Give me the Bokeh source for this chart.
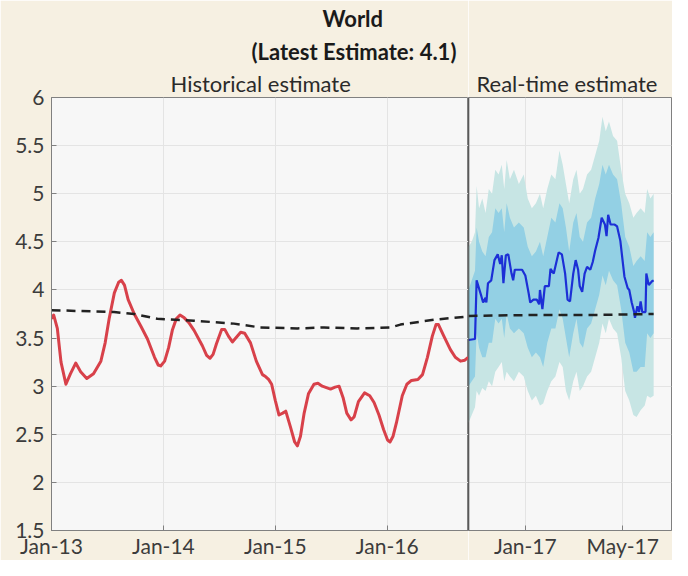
import pandas as pd
from bokeh.plotting import figure
from bokeh.layouts import row
from bokeh.models import (Title, FixedTicker, DatetimeTickFormatter, CustomJSTickFormatter,
                          Span, Range1d, ColumnDataSource)
from bokeh.embed import file_html
from bokeh.resources import INLINE

# ---------------- data ----------------
hist_dates = ["2013-01-01", "2013-01-08", "2013-01-20", "2013-02-01", "2013-02-17", "2013-03-04",
              "2013-03-21", "2013-04-06", "2013-04-26", "2013-05-18", "2013-06-11", "2013-06-25",
              "2013-07-08", "2013-07-25", "2013-08-08", "2013-08-17", "2013-08-27", "2013-09-08",
              "2013-09-28", "2013-10-20", "2013-11-10", "2013-12-03", "2013-12-15", "2013-12-23",
              "2014-01-05", "2014-01-18", "2014-01-30", "2014-02-12", "2014-02-24", "2014-03-10",
              "2014-03-25", "2014-04-11", "2014-05-08", "2014-05-22", "2014-06-02", "2014-06-12",
              "2014-06-23", "2014-07-10", "2014-07-20", "2014-08-01", "2014-08-14", "2014-08-25",
              "2014-09-10", "2014-09-23", "2014-10-12", "2014-10-31", "2014-11-20", "2014-11-30",
              "2014-12-10", "2014-12-20", "2015-01-01", "2015-01-13", "2015-01-25", "2015-02-04",
              "2015-02-19", "2015-03-05", "2015-03-14", "2015-03-24", "2015-04-05", "2015-04-19",
              "2015-05-07", "2015-05-20", "2015-06-03", "2015-06-30", "2015-07-15", "2015-07-28",
              "2015-08-10", "2015-08-22", "2015-09-05", "2015-09-15", "2015-09-29", "2015-10-19",
              "2015-11-05", "2015-11-19", "2015-12-05", "2015-12-20", "2016-01-02", "2016-01-10",
              "2016-01-20", "2016-01-31", "2016-02-19", "2016-03-05", "2016-03-20", "2016-04-10",
              "2016-04-25", "2016-05-11", "2016-05-27", "2016-06-08", "2016-06-16", "2016-07-02",
              "2016-07-25", "2016-08-10", "2016-08-27", "2016-09-10", "2016-09-21"]
hist_values = [3.70, 3.74, 3.60, 3.25, 3.02, 3.13,
               3.24, 3.15, 3.08, 3.13, 3.26, 3.45,
               3.70, 3.97, 4.08, 4.10, 4.05, 3.90,
               3.75, 3.62, 3.49, 3.30, 3.22, 3.21,
               3.26, 3.40, 3.58, 3.70, 3.74, 3.71,
               3.66, 3.58, 3.42, 3.32, 3.29, 3.33,
               3.44, 3.59, 3.59, 3.52, 3.46, 3.50,
               3.56, 3.55, 3.45, 3.26, 3.12, 3.10,
               3.07, 3.02, 2.85, 2.70, 2.72, 2.74,
               2.58, 2.42, 2.38, 2.48, 2.72, 2.92,
               3.02, 3.03, 3.00, 2.97, 2.99, 3.00,
               2.88, 2.72, 2.65, 2.68, 2.84, 2.93,
               2.90, 2.83, 2.70, 2.55, 2.44, 2.42,
               2.48, 2.62, 2.90, 3.02, 3.06, 3.07,
               3.12, 3.30, 3.52, 3.64, 3.64, 3.53,
               3.38, 3.30, 3.26, 3.27, 3.30]

trend_hist_dates = ["2013-01-01", "2013-07-24", "2013-09-28", "2013-12-12", "2014-04-11", "2014-08-19",
                    "2014-11-13", "2015-03-14", "2015-06-09", "2015-09-25", "2016-01-12", "2016-02-13",
                    "2016-06-01", "2016-09-07", "2016-09-21"]
trend_hist_values = [3.79, 3.77, 3.75, 3.70, 3.68, 3.65,
                     3.61, 3.60, 3.61, 3.60, 3.61, 3.64,
                     3.69, 3.72, 3.73]

rt_dates = ["2016-10-23", "2016-10-31", "2016-11-02", "2016-11-08", "2016-11-10", "2016-11-13",
            "2016-11-14", "2016-11-16", "2016-11-20", "2016-11-24", "2016-11-28", "2016-12-01",
            "2016-12-03", "2016-12-05", "2016-12-08", "2016-12-11", "2016-12-15", "2016-12-17",
            "2016-12-19", "2016-12-28", "2017-01-01", "2017-01-05", "2017-01-07", "2017-01-11",
            "2017-01-15", "2017-01-18", "2017-01-19", "2017-01-22", "2017-01-25", "2017-01-30",
            "2017-02-01", "2017-02-05", "2017-02-11", "2017-02-15", "2017-02-19", "2017-02-22",
            "2017-02-25", "2017-03-01", "2017-03-04", "2017-03-07", "2017-03-09", "2017-03-12",
            "2017-03-15", "2017-03-18", "2017-03-22", "2017-03-25", "2017-03-28", "2017-04-01",
            "2017-04-05", "2017-04-09", "2017-04-11", "2017-04-13", "2017-04-16", "2017-04-21",
            "2017-04-24", "2017-04-28", "2017-05-03", "2017-05-07", "2017-05-09", "2017-05-12",
            "2017-05-15", "2017-05-16", "2017-05-19", "2017-05-21", "2017-05-23", "2017-05-25",
            "2017-05-29", "2017-05-30", "2017-06-02", "2017-06-06", "2017-06-08"]
rt_values = [3.48, 3.49, 4.10, 3.93, 3.87, 3.92,
             3.87, 4.07, 4.10, 4.31, 4.37, 4.27,
             4.36, 4.07, 4.36, 4.37, 4.17, 4.10,
             4.21, 4.21, 4.15, 3.97, 3.87, 3.90,
             3.90, 3.85, 4.00, 3.80, 4.04, 4.04,
             4.22, 4.17, 4.39, 4.37, 4.17, 3.90,
             3.88, 4.17, 4.31, 4.21, 4.04, 3.98,
             4.17, 4.24, 4.21, 4.29, 4.41, 4.54,
             4.75, 4.68, 4.56, 4.78, 4.68, 4.68,
             4.66, 4.51, 4.14, 4.02, 4.00, 3.87,
             3.77, 3.71, 3.83, 3.77, 3.88, 3.77,
             3.77, 4.17, 4.05, 4.09, 4.10]

trend_rt_dates = ["2016-10-23", "2017-01-15", "2017-04-01", "2017-06-08"]
trend_rt_values = [3.73, 3.74, 3.74, 3.75]

band_dates = ["2016-10-23", "2016-10-27", "2016-10-31", "2016-11-02", "2016-11-05", "2016-11-09",
              "2016-11-13", "2016-11-17", "2016-11-21", "2016-11-25", "2016-11-29", "2016-12-03",
              "2016-12-06", "2016-12-09", "2016-12-13", "2016-12-18", "2016-12-24", "2016-12-30",
              "2017-01-04", "2017-01-09", "2017-01-14", "2017-01-19", "2017-01-23", "2017-01-28",
              "2017-02-02", "2017-02-07", "2017-02-12", "2017-02-16", "2017-02-20", "2017-02-24",
              "2017-03-01", "2017-03-05", "2017-03-09", "2017-03-13", "2017-03-18", "2017-03-23",
              "2017-03-28", "2017-04-02", "2017-04-06", "2017-04-10", "2017-04-14", "2017-04-19",
              "2017-04-24", "2017-04-29", "2017-05-04", "2017-05-09", "2017-05-14", "2017-05-18",
              "2017-05-23", "2017-05-28", "2017-05-31", "2017-06-04", "2017-06-08"]
outer_upper = [4.45, 4.50, 4.60, 5.08, 4.85, 4.95,
               4.80, 5.05, 5.00, 5.25, 5.20, 5.30,
               5.05, 5.35, 5.15, 5.25, 5.10, 5.20,
               4.95, 4.85, 4.90, 5.00, 4.85, 5.05,
               5.20, 5.15, 5.45, 5.30, 5.10, 4.90,
               5.15, 5.25, 5.00, 5.05, 5.20, 5.25,
               5.40, 5.55, 5.80, 5.65, 5.75, 5.60,
               5.55, 5.25, 5.00, 4.90, 4.75, 4.80,
               4.85, 4.80, 5.05, 4.95, 5.00]
inner_upper = [4.00, 4.10, 4.20, 4.65, 4.50, 4.40,
               4.35, 4.55, 4.60, 4.85, 4.80, 4.85,
               4.60, 4.90, 4.75, 4.65, 4.70, 4.65,
               4.45, 4.35, 4.40, 4.50, 4.35, 4.55,
               4.75, 4.70, 4.90, 4.85, 4.65, 4.40,
               4.70, 4.80, 4.55, 4.50, 4.70, 4.75,
               4.95, 5.10, 5.30, 5.20, 5.30, 5.20,
               5.15, 4.90, 4.55, 4.45, 4.25, 4.30,
               4.35, 4.30, 4.60, 4.55, 4.60]
inner_lower = [3.00, 3.05, 3.10, 3.55, 3.40, 3.30,
               3.30, 3.45, 3.45, 3.70, 3.65, 3.70,
               3.50, 3.75, 3.60, 3.55, 3.60, 3.55,
               3.40, 3.30, 3.35, 3.30, 3.20, 3.45,
               3.60, 3.60, 3.80, 3.70, 3.50, 3.30,
               3.55, 3.70, 3.45, 3.40, 3.60, 3.65,
               3.80, 3.95, 4.15, 4.05, 4.20, 4.10,
               4.05, 3.80, 3.45, 3.35, 3.15, 3.15,
               3.20, 3.20, 3.55, 3.50, 3.55]
outer_lower = [2.62, 2.70, 2.78, 2.95, 2.90, 2.98,
               2.95, 3.05, 3.00, 3.15, 3.20, 3.25,
               3.05, 3.15, 3.10, 3.05, 3.15, 3.10,
               2.95, 2.85, 2.90, 2.80, 2.82, 2.95,
               3.05, 3.10, 3.25, 3.20, 2.95, 2.85,
               3.05, 3.15, 2.95, 3.00, 3.10, 3.15,
               3.30, 3.45, 3.65, 3.55, 3.70, 3.60,
               3.55, 3.30, 2.95, 2.85, 2.70, 2.68,
               2.75, 2.80, 2.90, 2.88, 2.90]

y_ticks = [1.5, 2, 2.5, 3, 3.5, 4, 4.5, 5, 5.5, 6]
hist_ticks = ["2013-01-01", "2014-01-01", "2015-01-01", "2016-01-01"]
rt_ticks = ["2017-01-01", "2017-05-01"]

# ---------------- styling ----------------
FONT = "Lato"
BG = "#f6f0e2"
PLOT_BG = "#f7f7f7"
AXIS_C = "#808080"
LABEL_C = "#3c3c3c"
TOP, BOTTOM, H = 92, 28, 560


def ms(d):
    return pd.Timestamp(d).timestamp() * 1000.0


y_range = Range1d(1.5, 6)
fmt = DatetimeTickFormatter(years="%b-%y", months="%b-%y", days="%b-%y", hours="%b-%y")
yfmt = CustomJSTickFormatter(code="return tick.toString();")


def style(p):
    p.background_fill_color = PLOT_BG
    p.border_fill_color = BG
    p.outline_line_color = AXIS_C
    p.outline_line_width = 1
    p.grid.grid_line_color = "#e4e4e4"
    p.grid.grid_line_width = 1
    for ax in p.axis:
        ax.axis_line_color = AXIS_C
        ax.major_tick_line_color = AXIS_C
        ax.major_tick_in = 5
        ax.major_tick_out = 0
        ax.minor_tick_line_color = None
        ax.major_label_text_font = FONT
        ax.major_label_text_font_size = "21px"
        ax.major_label_text_color = LABEL_C


def title(text, size, style_, offset, standoff, color):
    return Title(text=text, align="left", offset=offset, text_font=FONT, text_font_size=size,
                 text_font_style=style_, text_color=color, standoff=standoff)


# ---- left (historical) ----
p1 = figure(width=468, height=H, output_backend="svg", toolbar_location=None,
            x_axis_type="datetime", x_range=Range1d(pd.Timestamp("2013-01-01"), pd.Timestamp("2016-09-22")),
            y_range=y_range, min_border_left=51, min_border_right=0, min_border_top=TOP,
            min_border_bottom=BOTTOM)
p1.title = title("World", "22px", "bold", 271, 4, "#1a1a1a")
p1.add_layout(title("Historical estimate", "22px", "normal", 119, 2, "#2a2a2a"), "above")
p1.add_layout(title("(Latest Estimate: 4.1)", "22px", "bold", 200, 4, "#1a1a1a"), "above")

hsrc = ColumnDataSource(dict(x=pd.to_datetime(hist_dates), y=hist_values))
p1.line("x", "y", source=hsrc, line_color="#d8414a", line_width=3, line_join="round")
tsrc = ColumnDataSource(dict(x=pd.to_datetime(trend_hist_dates), y=trend_hist_values))
p1.line("x", "y", source=tsrc, line_color="#222222", line_width=2.5, line_dash="9 6")

p1.xaxis.ticker = FixedTicker(ticks=[ms(d) for d in hist_ticks])
p1.xaxis.formatter = fmt
p1.xaxis.major_label_standoff = 2
p1.yaxis.ticker = FixedTicker(ticks=y_ticks)
p1.yaxis.formatter = yfmt
p1.yaxis.major_label_standoff = 7
style(p1)

# ---- right (real-time) ----
p2 = figure(width=204, height=H, output_backend="svg", toolbar_location=None,
            x_axis_type="datetime", x_range=Range1d(pd.Timestamp("2016-10-23"), pd.Timestamp("2017-06-30")),
            y_range=y_range, y_axis_location=None, min_border_left=0, min_border_right=1,
            min_border_top=TOP, min_border_bottom=BOTTOM)
p2.title = title("Real-time estimate", "22px", "normal", 8, 2, "#2a2a2a")

bsrc = ColumnDataSource(dict(x=pd.to_datetime(band_dates), ou=outer_upper, ol=outer_lower,
                             iu=inner_upper, il=inner_lower))
p2.varea(x="x", y1="ol", y2="ou", source=bsrc, fill_color="#c7e5e4", fill_alpha=1.0)
p2.varea(x="x", y1="il", y2="iu", source=bsrc, fill_color="#93d0e4", fill_alpha=1.0)
rsrc = ColumnDataSource(dict(x=pd.to_datetime(rt_dates), y=rt_values))
p2.line("x", "y", source=rsrc, line_color="#1c2fd6", line_width=2.2)
trsrc = ColumnDataSource(dict(x=pd.to_datetime(trend_rt_dates), y=trend_rt_values))
p2.line("x", "y", source=trsrc, line_color="#222222", line_width=2.5, line_dash="9 6")

p2.xaxis.ticker = FixedTicker(ticks=[ms(d) for d in rt_ticks])
p2.xaxis.formatter = fmt
p2.xaxis.major_label_standoff = 2
p2.ygrid.ticker = FixedTicker(ticks=y_ticks)
style(p2)
p2.add_layout(Span(location=ms("2016-10-23"), dimension="height", line_color="#333333", line_width=1.5))

layout = row(p1, p2)
open("out.html", "w").write(file_html(layout, INLINE))
